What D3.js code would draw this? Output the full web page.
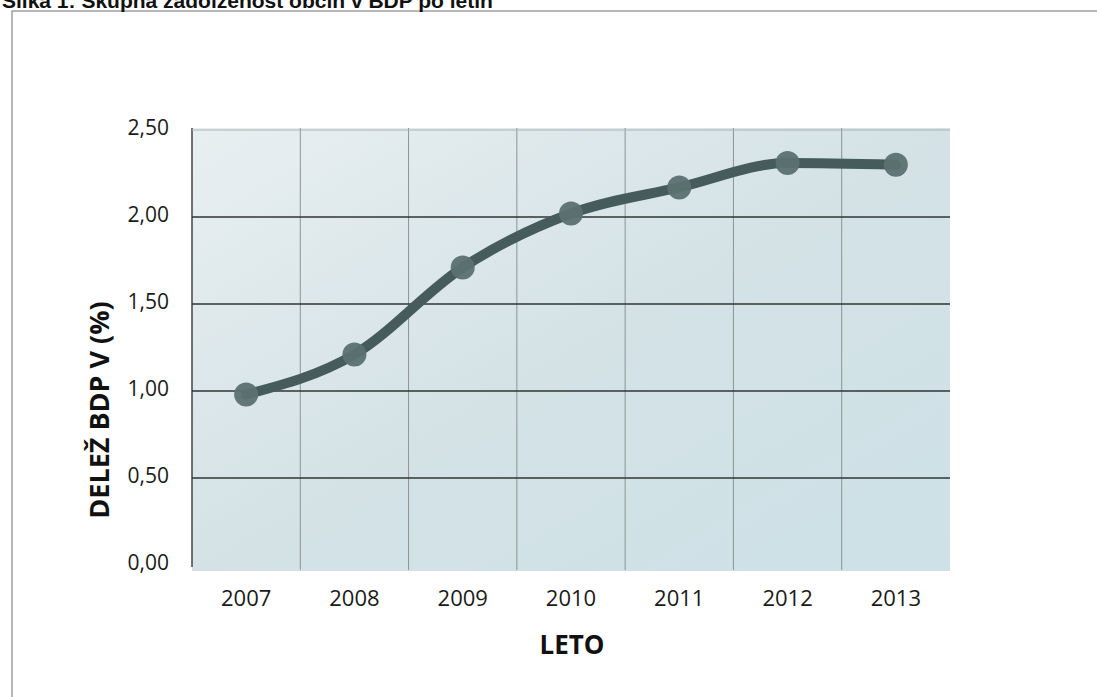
<!DOCTYPE html>
<html><head><meta charset="utf-8">
<script src="https://cdn.jsdelivr.net/npm/d3@7/dist/d3.min.js"></script>
<style>body{margin:0;background:#fff;} svg{display:block;}</style>
</head><body>
<script>
const years = ["2007","2008","2009","2010","2011","2012","2013"];
const values = [0.98, 1.21, 1.71, 2.02, 2.17, 2.31, 2.30];
const yTicks = [0, 0.5, 1.0, 1.5, 2.0, 2.5];
const titleText = "Slika 1: Skupna zadolženost občin v BDP po letih";
const yTitle = "DELEŽ BDP V (%)";
const xTitle = "LETO";

const W = 1097, H = 697;
const svg = d3.select("body").append("svg").attr("width", W).attr("height", H);

const defs = svg.append("defs");
const grad = defs.append("linearGradient").attr("id","bg").attr("x1","0").attr("y1","0").attr("x2","1").attr("y2","1");
grad.append("stop").attr("offset","0%").attr("stop-color","#e8eff1");
grad.append("stop").attr("offset","50%").attr("stop-color","#d4e2e6");
grad.append("stop").attr("offset","100%").attr("stop-color","#cde1e7");

// outer frame
svg.append("rect").attr("x",12).attr("y",11).attr("width",W).attr("height",H)
  .attr("fill","none").attr("stroke","#888").attr("stroke-width",1.2);

// title (cut off at top as in the scan)
svg.append("text").attr("x",2).attr("y",8).attr("font-family","Liberation Sans, Arial, sans-serif")
  .attr("font-weight","bold").attr("font-size",21).attr("fill","#111").text(titleText);

const pLeft = 192, pRight = 950, pTop = 130, pBottom = 565;
const x = d3.scaleBand().domain(years).range([pLeft, pRight]);
const y = d3.scaleLinear().domain([0, 2.5]).range([pBottom, pTop]);

// plot background
svg.append("rect").attr("x",pLeft).attr("y",pTop-2).attr("width",pRight-pLeft).attr("height",pBottom-pTop+8)
  .attr("fill","url(#bg)");

// vertical grid lines at band boundaries
const bounds = years.map(d => x(d)).concat([pRight]);
svg.append("g").selectAll("line").data(bounds.slice(1, -1)).join("line")
  .attr("x1", d=>d).attr("x2", d=>d).attr("y1", pTop-2).attr("y2", pBottom+5)
  .attr("stroke","#8a9496").attr("stroke-width",1);

// left axis line
svg.append("line").attr("x1",pLeft).attr("x2",pLeft).attr("y1",pTop-2).attr("y2",pBottom+2)
  .attr("stroke","#444").attr("stroke-width",1.5);

// horizontal grid lines
svg.append("g").selectAll("line").data(yTicks.filter(t => t > 0)).join("line")
  .attr("x1", pLeft).attr("x2", pRight).attr("y1", d=>y(d)).attr("y2", d=>y(d))
  .attr("stroke", d => d === 2.5 ? "#aab2b4" : "#2f3536").attr("stroke-width", d => d === 2.5 ? 1 : 1.6);

// y tick labels
const fmt = d => d3.format(".2f")(d).replace(".", ",");
svg.append("g").selectAll("text").data(yTicks).join("text")
  .attr("x", 169).attr("y", d => y(d) - 2).attr("dy","0.35em").attr("text-anchor","end")
  .attr("font-family","Open Sans, sans-serif").attr("font-size",21).attr("fill","#1a1a1a")
  .text(fmt);

// x tick labels
svg.append("g").selectAll("text").data(years).join("text")
  .attr("x", d => x(d) + x.bandwidth()/2).attr("y", 598).attr("dy","0.35em").attr("text-anchor","middle")
  .attr("font-family","Open Sans, sans-serif").attr("font-size",22).attr("fill","#1a1a1a")
  .text(d=>d);

// axis titles
svg.append("text").attr("x", 572).attr("y", 645).attr("dy","0.35em").attr("text-anchor","middle")
  .attr("font-family","Open Sans, sans-serif").attr("font-weight","bold").attr("font-size",26).attr("fill","#111")
  .text(xTitle);
svg.append("text").attr("transform","translate(100,410) rotate(-90)").attr("dy","0.35em").attr("text-anchor","middle")
  .attr("font-family","Open Sans, sans-serif").attr("font-weight","bold").attr("font-size",27).attr("fill","#111")
  .text(yTitle);

// line
const pts = years.map((d,i) => [x(d) + x.bandwidth()/2, y(values[i])]);
svg.append("path").attr("d", d3.line().curve(d3.curveMonotoneX)(pts))
  .attr("fill","none").attr("stroke","#465c5c").attr("stroke-width",10).attr("stroke-linecap","round");
svg.append("g").selectAll("circle").data(pts).join("circle")
  .attr("cx", d=>d[0]).attr("cy", d=>d[1]).attr("r", 12)
  .attr("fill","#5b7170").attr("opacity",0.95);
</script>
</body></html>
